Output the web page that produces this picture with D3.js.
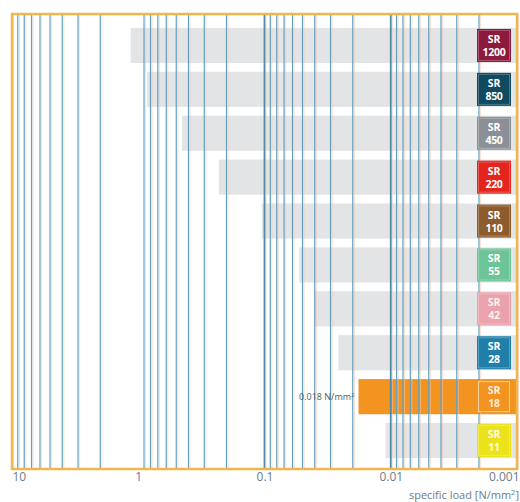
<!DOCTYPE html>
<html>
<head>
<meta charset="utf-8">
<script src="https://cdn.jsdelivr.net/npm/d3@7"></script>
<style>
  body { margin: 0; background: #fff; }
  svg { display: block; font-family: "Open Sans", "Noto Sans", sans-serif; }
</style>
</head>
<body>
<div id="chart"></div>
<script>
// grades, top to bottom
var grades = ['1200', '850', '450', '220', '110', '55', '42', '28', '18', '11'];
// specific load the bar starts at, N/mm2
var loads = [1.15, 0.85, 0.45, 0.23, 0.105, 0.053, 0.04, 0.026, 0.018, 0.011];
var boxColors = ['#8c1a3c', '#0f4a5f', '#8b9096', '#e2261d', '#8d5b2c', '#6cc497', '#eaa3ad', '#1f7fa9', '#f39320', '#ece21c'];
var highlight = '18';
var tickValues = [10, 1, 0.1, 0.01, 0.001];
var tickLabels = ['10', '1', '0.1', '0.01', '0.001'];

var W = 520, H = 502;
var plotL = 12, plotR = 517, plotT = 14, plotB = 469;

var svg = d3.select('#chart').append('svg')
    .attr('width', W)
    .attr('height', H);

var x = d3.scaleLog().domain([10, 0.001]).range([plotL, plotR]);
var y = d3.scaleBand().domain(grades).range([23.5, 462.5])
    .paddingInner(0.2).paddingOuter(0.1);

// bars first, grid lines run over them
svg.append('g')
    .selectAll('rect')
    .data(grades)
    .join('rect')
    .attr('x', function(d, i) { return x(loads[i]); })
    .attr('y', function(d) { return y(d); })
    .attr('width', function(d, i) { return plotR - x(loads[i]); })
    .attr('height', y.bandwidth())
    .attr('fill', function(d) { return d === highlight ? '#f39320' : '#e3e4e6'; });

// vertical grid: 1..9 in each decade
var gridVals = [];
for (var k = 0; k >= -3; k--) {
    for (var m = 1; m <= 9; m++) {
        if (m === 1 && k === 0) continue;
        gridVals.push({v: m * Math.pow(10, k), major: m === 1});
    }
}
gridVals.push({v: 10, major: true});

var grid = svg.append('g');
grid.selectAll('line.halo')
    .data(gridVals)
    .join('line')
    .attr('class', 'halo')
    .attr('x1', function(d) { return x(d.v) + 1.6; })
    .attr('x2', function(d) { return x(d.v) + 1.6; })
    .attr('y1', plotT).attr('y2', plotB)
    .attr('stroke', '#f3c7b6')
    .attr('stroke-opacity', 0.55)
    .attr('stroke-width', 1);
grid.selectAll('line.g')
    .data(gridVals)
    .join('line')
    .attr('class', 'g')
    .attr('x1', function(d) { return x(d.v); })
    .attr('x2', function(d) { return x(d.v); })
    .attr('y1', plotT).attr('y2', plotB)
    .attr('stroke', function(d) { return d.major ? '#4d8cab' : '#62a1c0'; })
    .attr('stroke-width', function(d) { return d.major ? 1.8 : 1.2; });

// frame
svg.append('rect')
    .attr('x', plotL).attr('y', plotT)
    .attr('width', plotR - plotL).attr('height', plotB - plotT)
    .attr('fill', 'none')
    .attr('stroke', '#f0b64c')
    .attr('stroke-width', 2.5);

// grade boxes
var boxW = 34, boxH = 33;
var boxX = 477;
var box = svg.append('g')
    .selectAll('g')
    .data(grades)
    .join('g')
    .attr('transform', function(d) {
        return 'translate(' + boxX + ',' + (y(d) + (y.bandwidth() - boxH) / 2) + ')';
    });
box.append('rect')
    .attr('width', boxW).attr('height', boxH)
    .attr('fill', function(d, i) { return boxColors[i]; });
box.append('rect')
    .attr('x', 1.5).attr('y', 1.5)
    .attr('width', boxW - 3).attr('height', boxH - 3)
    .attr('fill', 'none')
    .attr('stroke', '#fff')
    .attr('stroke-opacity', function(d) { return d === highlight ? 0.6 : 0.25; })
    .attr('stroke-width', 1);
var faint = function(d) { return d === '11' || d === '42' || d === '18' ? 0.85 : 1; };
box.append('text')
    .attr('x', boxW / 2).attr('y', 14)
    .attr('text-anchor', 'middle')
    .attr('font-size', '10.5px')
    .attr('font-weight', 'bold')
    .attr('fill', '#fff')
    .attr('fill-opacity', faint)
    .text('SR');
box.append('text')
    .attr('x', boxW / 2).attr('y', 27)
    .attr('text-anchor', 'middle')
    .attr('font-size', '10.5px')
    .attr('font-weight', 'bold')
    .attr('letter-spacing', '-0.3px')
    .attr('fill', '#fff')
    .attr('fill-opacity', faint)
    .text(function(d) { return d; });

// note on highlighted bar
var hi = grades.indexOf(highlight);
svg.append('text')
    .attr('x', x(loads[hi]) - 4)
    .attr('y', y(highlight) + y.bandwidth() / 2 + 3.5)
    .attr('text-anchor', 'end')
    .attr('font-size', '9px')
    .attr('fill', '#555b63')
    .html(loads[hi] + ' N/mm<tspan font-size="6px" dy="-3">2</tspan>');

// x axis
var axis = svg.append('g')
    .attr('transform', 'translate(0,' + plotB + ')')
    .call(d3.axisBottom(x)
        .tickValues(tickValues)
        .tickFormat(function(d, i) { return tickLabels[i]; })
        .tickSize(0)
        .tickPadding(3));
axis.select('.domain').remove();
axis.selectAll('text')
    .attr('font-family', '"Open Sans", sans-serif')
    .attr('font-size', '12px')
    .attr('fill', '#6b7b8c')
    .attr('text-anchor', function(d, i) {
        return i === 0 ? 'start' : (i === tickValues.length - 1 ? 'end' : 'middle');
    })
    .attr('dx', function(d, i) { return i === tickValues.length - 1 ? '2' : '0'; });

svg.append('text')
    .attr('x', 519).attr('y', 499)
    .attr('text-anchor', 'end')
    .attr('font-size', '11px')
    .attr('fill', '#6b7b8c')
    .html('specific load [N/mm<tspan font-size="7.5px" dy="-4">2</tspan><tspan dy="4">]</tspan>');
</script>
</body>
</html>
